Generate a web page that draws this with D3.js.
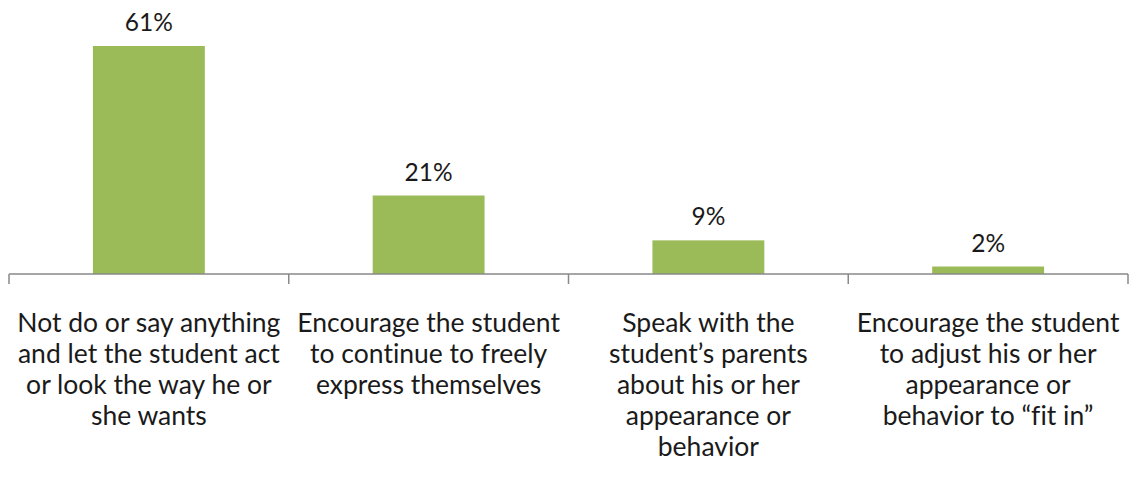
<!DOCTYPE html>
<html>
<head>
<meta charset="utf-8">
<script src="https://cdn.jsdelivr.net/npm/d3@7"></script>
<style>
html,body{margin:0;padding:0;background:#fff;}
svg{display:block;font-family:"Lato","Open Sans",sans-serif;font-variant-ligatures:none;}
</style>
</head>
<body>
<svg id="chart" width="1131" height="477"></svg>
<script>
const categories = ["c1","c2","c3","c4"];
const categoryLabels = [
  ["Not do or say anything","and let the student act","or look the way he or","she wants"],
  ["Encourage the student","to continue to freely","express themselves"],
  ["Speak with the","student\u2019s parents","about his or her","appearance or","behavior"],
  ["Encourage the student","to adjust his or her","appearance or","behavior to \u201cfit in\u201d"]
];
const values = [61, 21, 9, 2];
const valueLabels = ["61%","21%","9%","2%"];

const svg = d3.select("#chart");
const axisY = 274;
const x = d3.scaleBand().domain(categories).range([9, 1128]).padding(0);
const y = d3.scaleLinear().domain([0, 61]).range([axisY, 46]);
const barW = x.bandwidth() * 0.4;

svg.selectAll("rect.bar").data(values).enter().append("rect")
  .attr("x", (d,i) => x(categories[i]) + (x.bandwidth()-barW)/2)
  .attr("y", d => y(d))
  .attr("width", barW)
  .attr("height", d => axisY - y(d))
  .attr("fill", "#9BBB59");

svg.selectAll("text.val").data(values).enter().append("text")
  .attr("x", (d,i) => x(categories[i]) + x.bandwidth()/2)
  .attr("y", d => y(d) - 15)
  .attr("text-anchor", "middle")
  .attr("font-size", 24.5)
  .attr("fill", "#1a1a1a")
  .text((d,i) => valueLabels[i]);

// axis
const axisColor = "#898989";
svg.append("line").attr("x1", x.range()[0]).attr("x2", x.range()[1])
  .attr("y1", axisY).attr("y2", axisY).attr("stroke", axisColor).attr("stroke-width", 1.5);
const tickXs = categories.map(c => x(c)).concat([x.range()[1]]);
svg.selectAll("line.tick").data(tickXs).enter().append("line")
  .attr("x1", d => d).attr("x2", d => d)
  .attr("y1", axisY).attr("y2", axisY + 10)
  .attr("stroke", axisColor).attr("stroke-width", 1.5);

// category labels
categories.forEach((c,i) => {
  const t = svg.append("text")
    .attr("text-anchor", "middle")
    .attr("font-size", 26.5)
    .attr("fill", "#1a1a1a");
  categoryLabels[i].forEach((line, j) => {
    t.append("tspan").attr("x", x(c) + x.bandwidth()/2).attr("y", 332 + j*31).text(line);
  });
});
</script>
</body>
</html>
